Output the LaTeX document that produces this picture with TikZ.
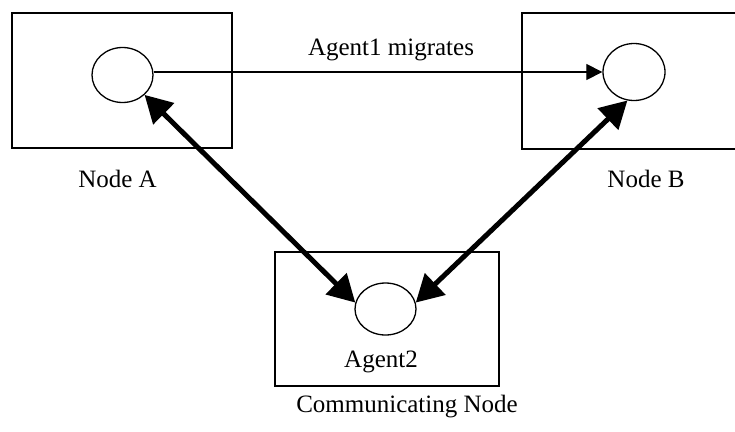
\documentclass[tikz,border=0pt]{standalone}
\usepackage{fontspec}
\setmainfont{Liberation Serif}
\usetikzlibrary{arrows.meta,shapes.geometric}
\begin{document}
\begin{tikzpicture}[x=1pt,y=-1pt,
  host/.style={draw,line width=1.4pt},
  agent/.style={draw,ellipse,line width=1.3pt,inner sep=0pt},
  lbl/.style={anchor=base,inner sep=0pt,font=\fontsize{25}{30}\selectfont},
  migrate/.style={line width=1.1pt,-{Triangle[length=16pt,width=16pt]}},
  talk/.style={line width=5pt,{Triangle[length=27pt,width=29pt]}-{Triangle[length=27pt,width=29pt]}}]
\useasboundingbox (0,0) rectangle (735,431);
\clip (0,0) rectangle (735,431);
% host boxes
\draw[host] (12,13) rectangle (232,148);
\draw[host] (522,13) rectangle (745,149);
\draw[host] (275,252) rectangle (499,386);
% agents
\node[agent,minimum width=61pt,minimum height=55pt] (A) at (122.5,75) {};
\node[agent,minimum width=62pt,minimum height=57pt] (B) at (634,72) {};
\node[agent,minimum width=61pt,minimum height=52pt] (C) at (385.5,309) {};
% labels
\node[lbl] (la) at (117.5,187) {Node A};
\node[lbl] (lb) at (646,187) {Node B};
\node[lbl] (lm) at (391,55) {Agent1 migrates};
\node[lbl] (l2) at (381,367) {Agent2};
\node[lbl] (lc) at (407,412) {Communicating Node};
% connectors
\draw[migrate] (A.east |- B.west) -- (B.west);
\draw[talk] (A.-42) -- (C.168);
\draw[talk] (B.-103) -- (C.12);
\end{tikzpicture}
\end{document}
